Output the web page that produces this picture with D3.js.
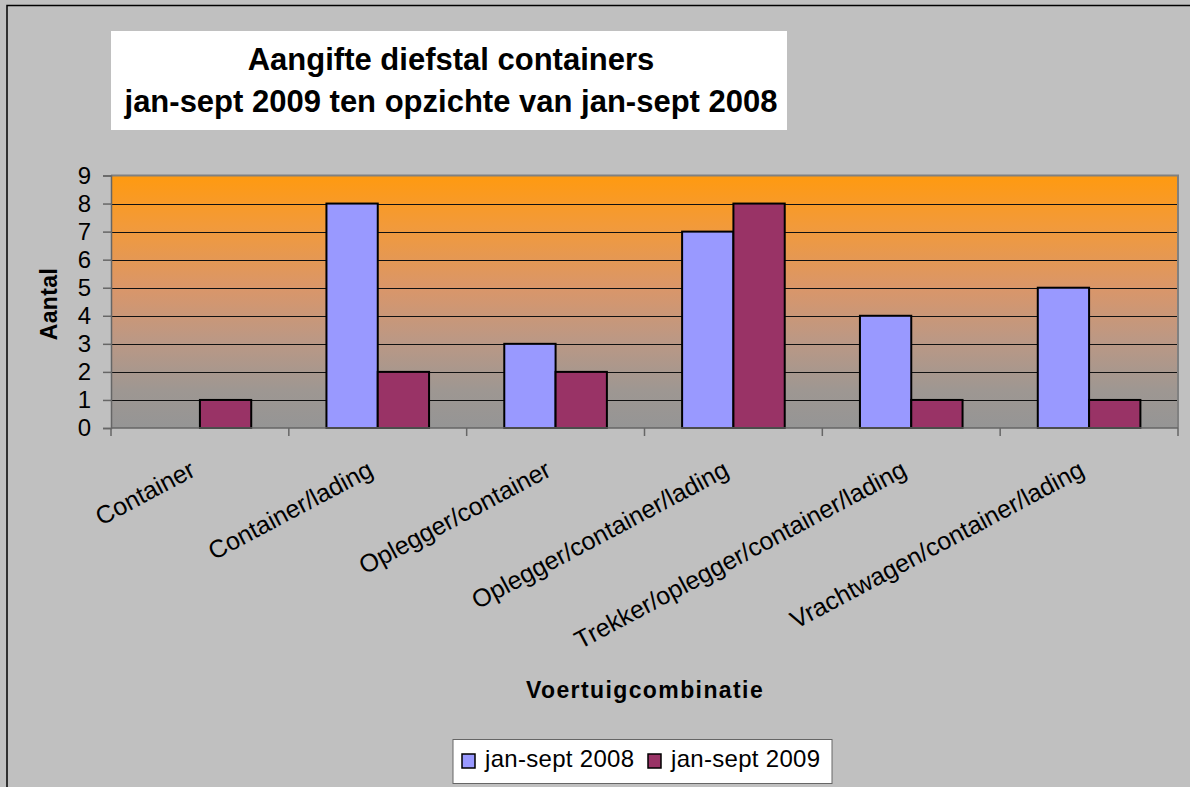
<!DOCTYPE html>
<html><head><meta charset="utf-8">
<script src="https://cdn.jsdelivr.net/npm/d3@7"></script>
<style>
html,body{margin:0;padding:0;background:#c0c0c0;}
svg{display:block;font-family:"Liberation Sans",Arial,sans-serif;}
</style></head>
<body>
<svg id="chart" width="1190" height="787"></svg>
<script>
const categories = ["Container","Container/lading","Oplegger/container","Oplegger/container/lading","Trekker/oplegger/container/lading","Vrachtwagen/container/lading"];
const seriesNames = ["jan-sept 2008","jan-sept 2009"];
const values2008 = [0, 8, 3, 7, 4, 5];
const values2009 = [1, 2, 2, 8, 1, 1];
const yTicks = [0,1,2,3,4,5,6,7,8,9];
const titleLines = ["Aangifte diefstal containers","jan-sept 2009 ten opzichte van jan-sept 2008"];
const yTitle = "Aantal";
const xTitle = "Voertuigcombinatie";
const colors = ["#9999FF","#993366"];

const svg = d3.select("#chart");
const L = 111, R = 1178, T = 175.5, B = 428;

// outer border
svg.append("rect").attr("x",7).attr("y",5.5).attr("width",1200).attr("height",800)
  .attr("fill","#c0c0c0").attr("stroke","#000").attr("stroke-width",1.5);

// title box
svg.append("rect").attr("x",111).attr("y",31).attr("width",676).attr("height",99).attr("fill","#fff");
svg.selectAll("text.title").data(titleLines).join("text").attr("class","title")
  .attr("x",451).attr("y",(d,i)=>70+i*42).attr("text-anchor","middle")
  .attr("font-size",31).attr("font-weight","bold").attr("fill","#000").text(d=>d);

const x0 = d3.scaleBand().domain(categories).range([L,R]).padding(0);
const x1 = d3.scaleBand().domain(seriesNames).range([0,x0.bandwidth()]).paddingInner(0).paddingOuter(0.733);
const y = d3.scaleLinear().domain([0,9]).range([B,T]);

// gradient background
const defs = svg.append("defs");
const grad = defs.append("linearGradient").attr("id","bg").attr("x1",0).attr("y1",0).attr("x2",0).attr("y2",1);
[[0,"#FF9A10"],[0.2,"#F29A3A"],[0.45,"#D9966A"],[0.65,"#BC9884"],[0.85,"#9E9792"],[1,"#959595"]]
  .forEach(s=>grad.append("stop").attr("offset",s[0]).attr("stop-color",s[1]));
svg.append("rect").attr("x",L).attr("y",T).attr("width",R-L).attr("height",B-T).attr("fill","url(#bg)");

// gridlines
svg.append("g").selectAll("line").data(yTicks.filter(d=>d>0&&d<9)).join("line")
  .attr("x1",L).attr("x2",R).attr("y1",d=>Math.round(y(d))+0.5).attr("y2",d=>Math.round(y(d))+0.5)
  .attr("stroke","#111").attr("stroke-width",1);

// plot border top/right
svg.append("path").attr("d",`M${L},${T}H${R}V${B}`).attr("fill","none").attr("stroke","#808080").attr("stroke-width",2);

// bars
const data = categories.map((c,i)=>({c, vals:[values2008[i],values2009[i]]}));
const groups = svg.append("g").selectAll("g").data(data).join("g").attr("transform",d=>`translate(${x0(d.c)},0)`);
groups.selectAll("rect").data(d=>d.vals.map((v,j)=>({v,s:seriesNames[j],j})).filter(e=>e.v>0)).join("rect")
  .attr("x",e=>x1(e.s)).attr("width",x1.bandwidth())
  .attr("y",e=>y(e.v)).attr("height",e=>y(0)-y(e.v))
  .attr("fill",e=>colors[e.j]).attr("stroke","#000").attr("stroke-width",2);

// y axis
const yAxis = svg.append("g").attr("transform",`translate(${L},0)`)
  .call(d3.axisLeft(y).tickValues(yTicks).tickSize(8).tickPadding(12).tickFormat(d3.format("d")));
yAxis.select(".domain").attr("stroke","#666").attr("stroke-width",1.5);
yAxis.selectAll(".tick line").attr("stroke","#666").attr("stroke-width",1.5);
yAxis.selectAll(".tick text").attr("font-size",24).attr("fill","#000").attr("font-family","Liberation Sans, Arial, sans-serif");

// x axis line & ticks
svg.append("line").attr("x1",L).attr("x2",R).attr("y1",B).attr("y2",B).attr("stroke","#666").attr("stroke-width",1.5);
const bounds = categories.map(c=>x0(c)).concat([R]);
svg.append("g").selectAll("line").data(bounds).join("line")
  .attr("x1",d=>d).attr("x2",d=>d).attr("y1",B).attr("y2",B+8).attr("stroke","#666").attr("stroke-width",1.5);

// category labels
svg.append("g").selectAll("text").data(categories).join("text")
  .attr("transform",d=>`translate(${x0(d)+x0.bandwidth()/2-3},475) rotate(-28)`)
  .attr("text-anchor","end").attr("font-size",25).attr("fill","#000").text(d=>d);

// axis titles
svg.append("text").attr("transform","translate(57,304) rotate(-90)").attr("text-anchor","middle")
  .attr("font-size",23).attr("font-weight","bold").attr("letter-spacing",0.4).text(yTitle);
svg.append("text").attr("x",645).attr("y",698).attr("text-anchor","middle")
  .attr("font-size",23).attr("font-weight","bold").attr("letter-spacing",1.4).text(xTitle);

// legend
const lg = svg.append("g");
lg.append("rect").attr("x",453).attr("y",739.5).attr("width",379).attr("height",44)
  .attr("fill","#fff").attr("stroke","#666").attr("stroke-width",1);
const itemX = [462,648];
const items = lg.selectAll("g").data(seriesNames).join("g").attr("transform",(d,i)=>`translate(${itemX[i]},754)`);
items.append("rect").attr("width",13).attr("height",14).attr("fill",(d,i)=>colors[i]).attr("stroke","#000").attr("stroke-width",1.5);
items.append("text").attr("x",23).attr("y",13).attr("font-size",24).attr("letter-spacing",0.3).attr("fill","#000").text(d=>d);
</script>
</body></html>
